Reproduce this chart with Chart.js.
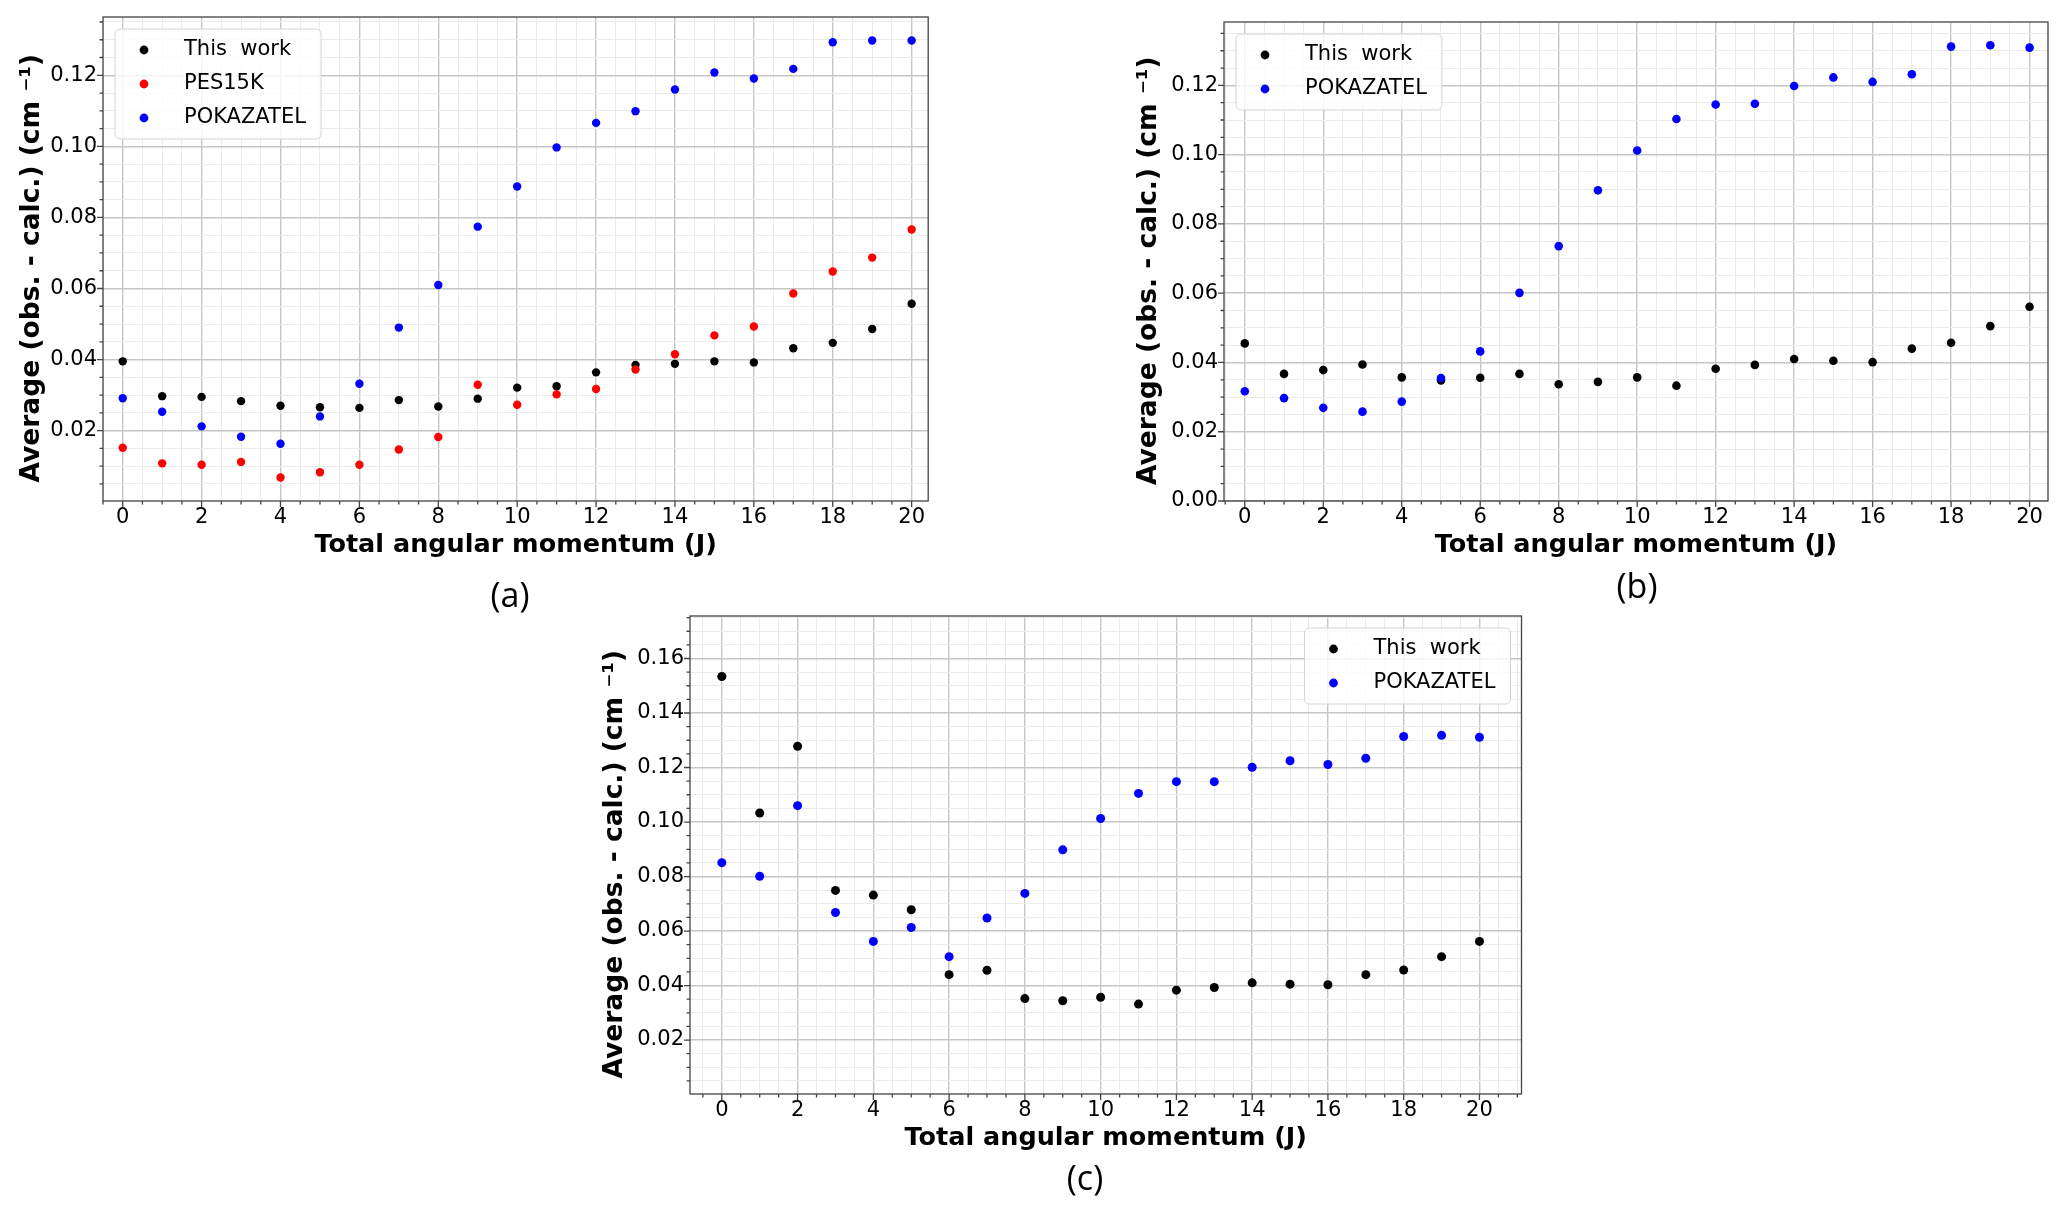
<!DOCTYPE html>
<html>
<head>
<meta charset="utf-8">
<script src="https://cdn.jsdelivr.net/npm/chart.js@4.4.1/dist/chart.umd.min.js"></script>
<style>
  html, body { margin: 0; padding: 0; background: #fff; }
  body { width: 2067px; height: 1213px; position: relative; overflow: hidden; }
  canvas { position: absolute; }
  .panel-label {
    position: absolute;
    font-family: 'Open Sans', sans-serif;
    font-size: 34px;
    line-height: 1;
    color: #000;
    transform: translate(-50%, -50%);
  }
</style>
</head>
<body>
<canvas id="chartA"></canvas>
<canvas id="chartB"></canvas>
<canvas id="chartC"></canvas>
<div class="panel-label" style="left:510px; top:594px">(a)</div>
<div class="panel-label" style="left:1637px; top:585px">(b)</div>
<div class="panel-label" style="left:1085px; top:1177px">(c)</div>
<script>
// Total angular momentum J (x values, same for every series)
const J = [0, 1, 2, 3, 4, 5, 6, 7, 8, 9, 10, 11, 12, 13, 14, 15, 16, 17, 18, 19, 20];

// panel (a)
const thisWorkA = [0.0395, 0.0297, 0.0295, 0.0283, 0.0270, 0.0266, 0.0264, 0.0286, 0.0268, 0.0290, 0.0321,
                   0.0325, 0.0364, 0.0385, 0.0388, 0.0395, 0.0392, 0.0432, 0.0447, 0.0486, 0.0557];
const pes15kA = [0.0152, 0.0108, 0.0104, 0.0112, 0.0068, 0.0083, 0.0104, 0.0147, 0.0182, 0.0329, 0.0273,
                 0.0302, 0.0317, 0.0372, 0.0415, 0.0468, 0.0493, 0.0586, 0.0648, 0.0687, 0.0766];
const pokazatelA = [0.0291, 0.0253, 0.0212, 0.0183, 0.0163, 0.0240, 0.0332, 0.0490, 0.0610, 0.0774, 0.0887,
                    0.0997, 0.1066, 0.1099, 0.1160, 0.1208, 0.1191, 0.1218, 0.1293, 0.1298, 0.1298];

// panel (b)
const thisWorkB = [0.0455, 0.0367, 0.0378, 0.0394, 0.0357, 0.0348, 0.0356, 0.0367, 0.0337, 0.0344, 0.0357,
                   0.0333, 0.0382, 0.0393, 0.0410, 0.0405, 0.0401, 0.0440, 0.0457, 0.0505, 0.0561];
const pokazatelB = [0.0317, 0.0297, 0.0269, 0.0258, 0.0287, 0.0355, 0.0432, 0.0601, 0.0736, 0.0897, 0.1012,
                    0.1103, 0.1145, 0.1147, 0.1198, 0.1223, 0.1210, 0.1232, 0.1312, 0.1316, 0.1309];

// panel (c)
const thisWorkC = [0.1534, 0.1033, 0.1278, 0.0749, 0.0732, 0.0678, 0.0440, 0.0456, 0.0352, 0.0344, 0.0357,
                   0.0332, 0.0383, 0.0393, 0.0410, 0.0405, 0.0403, 0.0440, 0.0457, 0.0506, 0.0562];
const pokazatelC = [0.0851, 0.0801, 0.1060, 0.0668, 0.0562, 0.0613, 0.0506, 0.0648, 0.0738, 0.0898, 0.1013,
                    0.1105, 0.1148, 0.1148, 0.1201, 0.1225, 0.1211, 0.1234, 0.1314, 0.1318, 0.1311];

// tick labels
const xTickLabels = [0, 2, 4, 6, 8, 10, 12, 14, 16, 18, 20];
const yTickLabelsA = [0.02, 0.04, 0.06, 0.08, 0.10, 0.12];
const yTickLabelsB = [0.00, 0.02, 0.04, 0.06, 0.08, 0.10, 0.12];
const yTickLabelsC = [0.02, 0.04, 0.06, 0.08, 0.10, 0.12, 0.14, 0.16];

const X_TITLE = 'Total angular momentum (J)';
// trailing spaces push the visible text a little down, like the original
const Y_TITLE = 'Average (obs. - calc.) (cm \u207B\u00B9)  ';

Chart.defaults.font.family = "'DejaVu Sans', sans-serif";
Chart.defaults.color = '#000';

const Y_AXIS_W = 100;   // space left of the plot box
const X_AXIS_H = 72;    // space under the plot box
const PAD_TOP = 16;
const MAJOR_GRID = '#c6c6c6';
const MINOR_GRID = '#ebebeb';

const near = (a, b) => Math.abs(a - b) < 1e-9;

// minor tick positions (every step inside [min, max])
function stepTicks(min, max, step) {
  const out = [];
  for (let k = Math.ceil(min / step - 1e-9); k * step <= max + 1e-9; k++) {
    out.push(Math.round(k * step * 1e6) / 1e6);
  }
  return out;
}

// legend drawn inside the plot box, like matplotlib's
const innerLegend = {
  id: 'innerLegend',
  afterDatasetsDraw(chart, args, opts) {
    const {ctx, chartArea: a} = chart;
    const sets = chart.data.datasets;
    const w = 206, h = 42 + (sets.length - 1) * 34;
    const left = opts.side === 'right' ? a.right - 11 - w : a.left + 12;
    const top = a.top + 12;
    ctx.save();
    ctx.beginPath();
    ctx.roundRect(left, top, w, h, 5);
    ctx.fillStyle = 'rgba(255,255,255,0.8)';
    ctx.fill();
    ctx.strokeStyle = '#d4d4d4';
    ctx.lineWidth = 1;
    ctx.stroke();
    ctx.font = "21px 'DejaVu Sans'";
    ctx.textBaseline = 'middle';
    sets.forEach((d, i) => {
      const y = top + 21 + i * 34;
      ctx.beginPath();
      ctx.arc(left + 29, y, 4.4, 0, Math.PI * 2);
      ctx.fillStyle = d.backgroundColor;
      ctx.fill();
      ctx.fillStyle = '#000';
      ctx.fillText(d.label, left + 69, y);
    });
    ctx.restore();
  }
};

// box around the plot plus outward major/minor tick marks
const frame = {
  id: 'frame',
  afterDraw(chart, args, opts) {
    const {ctx, chartArea: a, scales} = chart;
    ctx.save();
    ctx.strokeStyle = '#444';
    ctx.lineWidth = 1.3;
    ctx.beginPath();
    scales.x.ticks.forEach(t => {
      const p = scales.x.getPixelForValue(t.value);
      const len = opts.isMajorX(t.value) ? 6 : 3.5;
      ctx.moveTo(p, a.bottom);
      ctx.lineTo(p, a.bottom + len);
    });
    scales.y.ticks.forEach(t => {
      const p = scales.y.getPixelForValue(t.value);
      const len = opts.isMajorY(t.value) ? 6 : 3.5;
      ctx.moveTo(a.left, p);
      ctx.lineTo(a.left - len, p);
    });
    ctx.stroke();
    ctx.strokeRect(a.left, a.top, a.right - a.left, a.bottom - a.top);
    ctx.restore();
  }
};

function makePanel(id, p) {
  const canvas = document.getElementById(id);
  const plotW = p.right - p.left;
  const plotH = p.bottom - p.top;
  const width = Math.ceil(Y_AXIS_W + plotW + 14);
  const height = Math.ceil(PAD_TOP + plotH + X_AXIS_H);
  canvas.width = width;
  canvas.height = height;
  canvas.style.width = width + 'px';
  canvas.style.height = height + 'px';
  canvas.style.left = (p.left - Y_AXIS_W) + 'px';
  canvas.style.top = (p.top - PAD_TOP) + 'px';

  const xTicks = stepTicks(p.xMin, p.xMax, 0.5);
  const yTicks = stepTicks(p.yMin, p.yMax, 0.005);
  const isMajorX = v => xTickLabels.some(t => near(t, v));
  const isMajorY = v => p.yLabels.some(t => near(t, v));

  const datasets = p.series.map((s, i) => ({
    label: s.label,
    data: J.map((j, k) => ({x: j, y: s.values[k]})),
    backgroundColor: s.color,
    borderColor: s.color,
    borderWidth: 0,
    pointRadius: p.dot,
    pointHoverRadius: p.dot,
    order: p.series.length - i   // later series on top, as in matplotlib
  }));

  return new Chart(canvas, {
    type: 'scatter',
    data: {datasets},
    plugins: [innerLegend, frame],
    options: {
      responsive: false,
      animation: false,
      layout: {padding: {top: PAD_TOP, right: width - Y_AXIS_W - plotW, left: 0, bottom: 0}},
      scales: {
        x: {
          type: 'linear',
          min: p.xMin,
          max: p.xMax,
          afterBuildTicks: s => { s.ticks = xTicks.map(v => ({value: v})); },
          afterFit: s => { s.height = X_AXIS_H; },
          ticks: {
            autoSkip: false, maxRotation: 0, minRotation: 0, padding: 1,
            font: {size: 21, lineHeight: 1},
            callback: v => isMajorX(v) ? String(Math.round(v)) : ''
          },
          grid: {
            color: c => isMajorX(c.tick.value) ? MAJOR_GRID : MINOR_GRID,
            lineWidth: c => isMajorX(c.tick.value) ? 1.4 : 1,
            tickLength: 5,
            tickColor: 'rgba(0,0,0,0)'
          },
          border: {display: false},
          title: {
            display: true, text: X_TITLE,
            font: {size: 25.5, weight: 'bold', lineHeight: 1.2},
            padding: {top: 0, bottom: 12.5}
          }
        },
        y: {
          type: 'linear',
          min: p.yMin,
          max: p.yMax,
          afterBuildTicks: s => { s.ticks = yTicks.map(v => ({value: v})); },
          afterFit: s => { s.width = Y_AXIS_W; },
          ticks: {
            autoSkip: false, padding: 1,
            font: {size: 21, lineHeight: 1},
            callback: v => isMajorY(v) ? v.toFixed(2) : ''
          },
          grid: {
            color: c => isMajorY(c.tick.value) ? MAJOR_GRID : MINOR_GRID,
            lineWidth: c => isMajorY(c.tick.value) ? 1.4 : 1,
            tickLength: 5,
            tickColor: 'rgba(0,0,0,0)'
          },
          border: {display: false},
          title: {
            display: true, text: Y_TITLE,
            font: {size: 26.5, weight: 'bold', lineHeight: 1.2},
            padding: {top: p.yTitlePad, bottom: 0}
          }
        }
      },
      plugins: {
        legend: {display: false},
        tooltip: {enabled: false},
        innerLegend: {side: p.legendSide},
        frame: {isMajorX, isMajorY}
      }
    }
  });
}

makePanel('chartA', {
  left: 102.5, top: 16.7, right: 927.7, bottom: 500.7,
  xMin: -0.5, xMax: 20.42, yMin: 0.0002, yMax: 0.1364,
  yLabels: yTickLabelsA, yTitlePad: 13, legendSide: 'left', dot: 4.2,
  series: [
    {label: 'This  work', values: thisWorkA, color: '#000000'},
    {label: 'PES15K', values: pes15kA, color: '#ff0000'},
    {label: 'POKAZATEL', values: pokazatelA, color: '#0000ff'}
  ]
});

makePanel('chartB', {
  left: 1224.3, top: 21.7, right: 2048.3, bottom: 500.7,
  xMin: -0.53, xMax: 20.47, yMin: 0, yMax: 0.1383,
  yLabels: yTickLabelsB, yTitlePad: 9, legendSide: 'left', dot: 4.3,
  series: [
    {label: 'This  work', values: thisWorkB, color: '#000000'},
    {label: 'POKAZATEL', values: pokazatelB, color: '#0000ff'}
  ]
});

makePanel('chartC', {
  left: 690, top: 616, right: 1521.5, bottom: 1094,
  xMin: -0.84, xMax: 21.11, yMin: 0.0002, yMax: 0.1756,
  yLabels: yTickLabelsC, yTitlePad: 9, legendSide: 'right', dot: 4.5,
  series: [
    {label: 'This  work', values: thisWorkC, color: '#000000'},
    {label: 'POKAZATEL', values: pokazatelC, color: '#0000ff'}
  ]
});
</script>
</body>
</html>
